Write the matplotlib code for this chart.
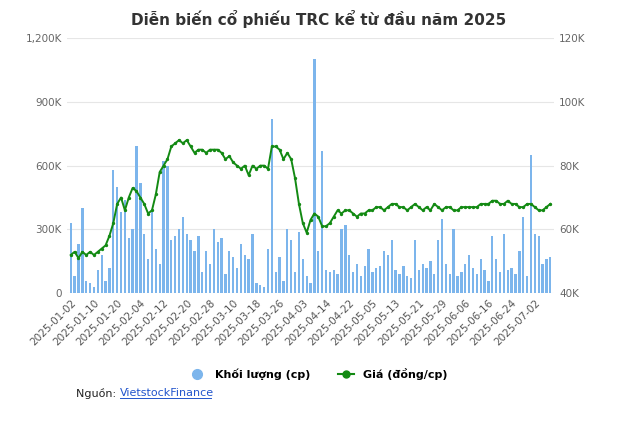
import matplotlib
matplotlib.use("Agg")
import matplotlib.pyplot as plt
import pandas as pd
import numpy as np
from matplotlib.lines import Line2D

holidays = ["2025-01-27","2025-01-28","2025-01-29","2025-01-30","2025-01-31",
            "2025-04-07","2025-04-30","2025-05-01","2025-05-02"]
volume_k = [330,80,230,400,60,50,
            30,110,180,60,120,580,
            500,380,440,260,300,690,
            520,280,160,380,210,140,
            620,600,250,270,300,360,
            280,250,200,270,100,200,
            140,300,240,260,90,200,
            170,120,230,180,160,280,
            50,40,30,210,820,100,
            170,60,300,250,100,290,
            160,80,50,1100,200,670,
            110,100,110,90,300,320,
            180,100,140,80,130,210,
            100,120,130,200,180,250,
            110,90,130,80,70,250,
            110,140,120,150,90,250,
            350,140,90,300,80,100,
            140,180,120,90,160,110,
            60,270,160,100,280,110,
            120,90,200,360,80,650,
            280,270,140,160,170]
price_k = [52,53,51,53,52,53,
           52,53,54,55,58,62,
           68,70,66,70,73,72,
           70,68,65,66,71,78,
           80,82,86,87,88,87,
           88,86,84,85,85,84,
           85,85,85,84,82,83,
           81,80,79,80,77,80,
           79,80,80,79,86,86,
           85,82,84,82,76,68,
           62,59,63,65,64,61,
           61,62,64,66,65,66,
           66,65,64,65,65,66,
           66,67,67,66,67,68,
           68,67,67,66,67,68,
           67,66,67,66,68,67,
           66,67,67,66,66,67,
           67,67,67,67,68,68,
           68,69,69,68,68,69,
           68,68,67,67,68,68,
           67,66,66,67,68]
n = min(len(volume_k), len(price_k))
volume_k, price_k = volume_k[:n], price_k[:n]
dates = pd.bdate_range("2025-01-02", "2025-08-31", freq="C", holidays=holidays)[:n]
labels = [d.strftime("%Y-%m-%d") for d in dates]
x = np.arange(n)

fig = plt.figure(figsize=(6.37, 4.22), dpi=100)
ax = fig.add_axes([0.105, 0.305, 0.765, 0.605])
ax.bar(x, volume_k, width=0.6, color="#7cb5ec", zorder=2)
ax.set_ylim(0, 1200)
ax.set_yticks([0,300,600,900,1200])
ax.set_yticklabels(["0","300K","600K","900K","1,200K"])
ax.grid(axis="y", color="#e6e6e6", lw=0.8, zorder=0)
ax.set_xlim(-1, n)
ax.set_xticks(x[::6])
ax.set_xticklabels(labels[::6], rotation=45, ha="right", rotation_mode="anchor", fontsize=7.5, color="#555")
for s in ax.spines.values(): s.set_visible(False)
ax.tick_params(axis="y", length=0, labelsize=7.5, labelcolor="#666")
ax.tick_params(axis="x", length=0, pad=3)
ax2 = ax.twinx()
ax2.plot(x, price_k, color="#138a13", lw=1.4, marker="o", ms=1.4, zorder=3)
ax2.set_ylim(40, 120)
ax2.set_yticks([40,60,80,100,120])
ax2.set_yticklabels(["40K","60K","80K","100K","120K"])
ax2.tick_params(axis="y", length=0, labelsize=7.5, labelcolor="#666")
for s in ax2.spines.values(): s.set_visible(False)
fig.text(0.5, 0.955, "Diễn biến cổ phiếu TRC kể từ đầu năm 2025", ha="center", va="center",
         fontsize=11, fontweight="bold", color="#333")
h = [Line2D([], [], marker="o", ls="", color="#7cb5ec", ms=7),
     Line2D([], [], marker="o", color="#138a13", ms=5, lw=1.5)]
fig.legend(h, ["Khối lượng (cp)", "Giá (đồng/cp)"], loc="center", bbox_to_anchor=(0.5, 0.113),
           ncol=2, frameon=False, handlelength=1.5, columnspacing=2.5,
           prop={"weight": "bold", "size": 8})
fig.text(0.12, 0.068, "Nguồn: ", fontsize=8, color="#222", va="center")
fig.text(0.188, 0.068, "VietstockFinance", fontsize=8, color="#2255cc", va="center")
fig.add_artist(Line2D([0.188, 0.331], [0.056, 0.056], color="#2255cc", lw=0.7))
fig.savefig("out.png", dpi=100, facecolor="white")
